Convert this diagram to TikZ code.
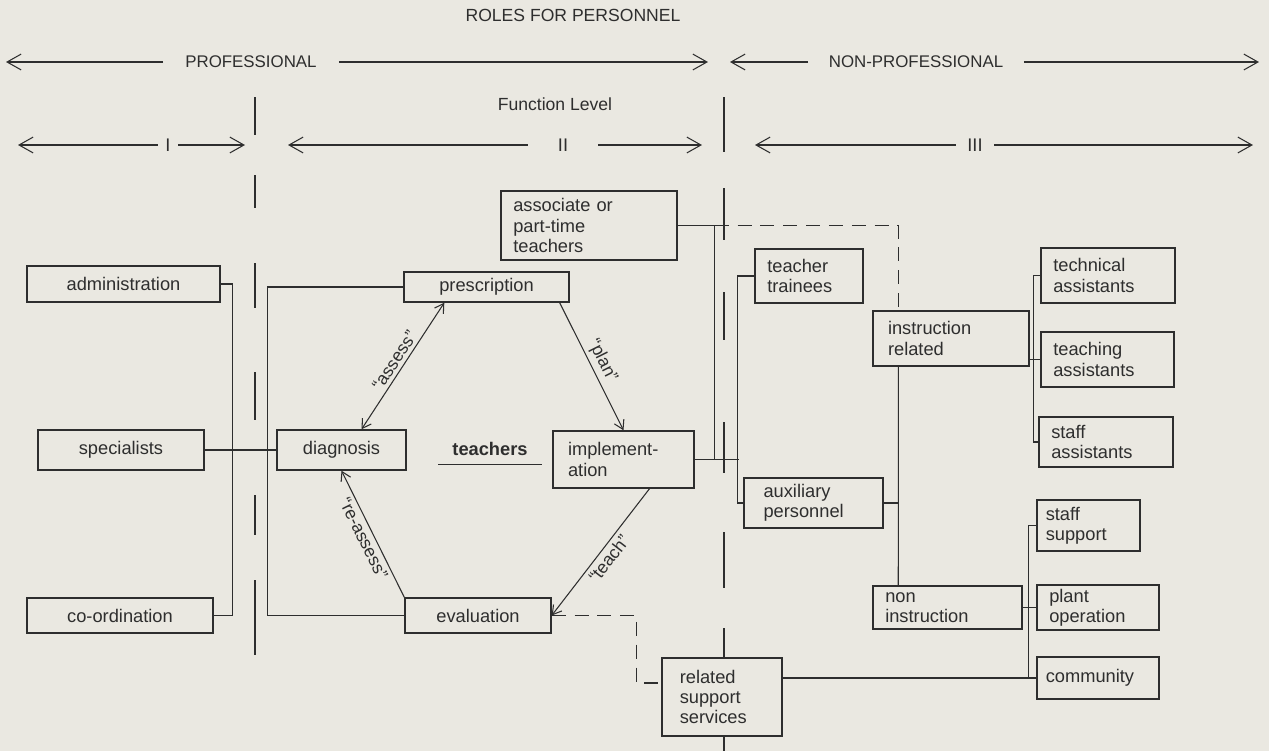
\documentclass[tikz,border=0pt]{standalone}
\usepackage{fontspec}
\setmainfont{Liberation Sans}
\usetikzlibrary{arrows.meta,calc}
\definecolor{paper}{HTML}{EAE8E1}
\definecolor{ink}{HTML}{2E2E2E}

\begin{document}
\begin{tikzpicture}[
  x=0.02cm, y=-0.02cm,
  font=\fontsize{10.4}{11.5}\selectfont,
  every node/.style={text=ink},
  hdr/.style={font=\fontsize{9.6}{11}\selectfont, inner ysep=1pt},
  box/.style={draw=ink, line width=0.8pt, inner sep=0pt},
  cbox/.style={box, align=center},
  lbox/.style={box, align=left, inner xsep=7pt},
  lab/.style={font=\fontsize{10}{12}\selectfont, inner sep=2pt},
  conn/.style={draw=ink, line width=0.6pt},
  arr/.style={conn, -{Straight Barb[length=5pt,width=6pt]}},
  arrb/.style={conn, {Straight Barb[length=5pt,width=6pt]}-{Straight Barb[length=5pt,width=6pt]}},
  harr/.style={conn, -{Straight Barb[length=8pt,width=9pt]}},
  dline/.style={conn, dash pattern=on 8pt off 5pt},
  divider/.style={draw=ink, line width=0.7pt}
]
\fill[paper] (0,0) rectangle (1269,751);

% headings
\node[font=\fontsize{10}{12}\selectfont] (title) at (573,15) {ROLES FOR PERSONNEL};
\node[hdr, inner xsep=12.5pt] (prof) at (251,62) {PROFESSIONAL};
\node[hdr, inner xsep=11.6pt] (nonprof) at (916,62) {NON-PROFESSIONAL};
\node[font=\fontsize{10}{12}\selectfont] (flevel) at (555,104) {Function Level};
\node[inner ysep=1pt, inner xsep=4.2pt] (lvI) at (168,145) {I};
\node[inner ysep=1pt, inner xsep=17pt] (lvII) at (563,145) {II};
\node[inner ysep=1pt, inner xsep=6.3pt] (lvIII) at (975,145) {III};

\coordinate (profL) at (6,62);
\coordinate (profR) at (708,62);
\coordinate (nonL) at (730,62);
\coordinate (nonR) at (1259,62);
\coordinate (lvIL) at (18,145);
\coordinate (lvIR) at (245,145);
\coordinate (lvIIL) at (288,145);
\coordinate (lvIIR) at (702,145);
\coordinate (lvIIIL) at (755,145);
\coordinate (lvIIIR) at (1253,145);

\draw[harr] (prof) -- (profL);
\draw[harr] (prof) -- (profR);
\draw[harr] (nonprof) -- (nonL);
\draw[harr] (nonprof) -- (nonR);
\draw[harr] (lvI) -- (lvIL);
\draw[harr] (lvI) -- (lvIR);
\draw[harr] (lvII) -- (lvIIL);
\draw[harr] (lvII) -- (lvIIR);
\draw[harr] (lvIII) -- (lvIIIL);
\draw[harr] (lvIII) -- (lvIIIR);

% level I
\node[cbox, minimum width=3.86cm, minimum height=0.72cm] (admin) at (123.5,284) {administration};
\node[cbox, minimum width=3.32cm, minimum height=0.80cm] (spec) at (121,450) {specialists};
\node[cbox, minimum width=3.72cm, minimum height=0.70cm] (coord) at (120,615.5) {co-ordination};

% level II
\node[cbox, minimum width=3.30cm, minimum height=0.60cm] (presc) at (486.5,287) {prescription};
\node[cbox, minimum width=2.58cm, minimum height=0.80cm] (diag) at (341.5,450) {diagnosis};
\node[cbox, minimum width=2.92cm, minimum height=0.70cm] (eval) at (478,615.5) {evaluation};
\node[lbox, inner xsep=8.5pt, text width=2.22cm, minimum height=1.14cm] (impl) at (623.5,459.5) {implement-\\ation};
\node[lbox, text width=3.03cm, minimum height=1.38cm] (assoc) at (589,225.5) {associate or\\part-time\\teachers};
\node[inner xsep=8pt, inner ysep=5pt, font=\fontsize{10.4}{11.5}\selectfont\bfseries] (teachers) at (490,449) {teachers};
\draw[conn] (teachers.south west) -- (teachers.south east);

% level III
\node[lbox, text width=1.67cm, minimum height=1.08cm] (train) at (809,276) {teacher\\trainees};
\node[lbox, inner xsep=11pt, text width=2.00cm, minimum height=1.00cm] (aux) at (813.5,503) {auxiliary\\personnel};
\node[lbox, inner xsep=10pt, text width=1.69cm, minimum height=1.56cm] (rel) at (722,697) {related\\support\\services};
\node[lbox, inner xsep=8.5pt, text width=2.52cm, minimum height=1.10cm] (instr) at (951,338.5) {instruction\\related};
\node[lbox, text width=2.49cm, minimum height=0.86cm] (nonin) at (947.5,607.5) {non\\instruction};
\node[lbox, text width=2.19cm, minimum height=1.10cm] (tech) at (1108,275.5) {technical\\assistants};
\node[lbox, text width=2.17cm, minimum height=1.10cm] (teachas) at (1107.5,359.5) {teaching\\assistants};
\node[lbox, text width=2.19cm, minimum height=1.00cm] (staffa) at (1106,442) {staff\\assistants};
\node[lbox, inner xsep=5pt, text width=1.71cm, minimum height=1.02cm] (ssup) at (1088.5,525.5) {staff\\support};
\node[lbox, text width=1.95cm, minimum height=0.90cm] (plant) at (1098,607.5) {plant\\operation};
\node[lbox, inner xsep=5pt, text width=2.09cm, minimum height=0.84cm] (comm) at (1098,678) {community};

% level dividers
\coordinate (divtop) at (724,97);
\draw[divider] (255,97) -- (255,135) (255,175) -- (255,208) (255,263) -- (255,308)
  (255,372) -- (255,420) (255,495) -- (255,535) (255,580) -- (255,655);
\draw[divider] (divtop) -- (724,152) (724,188) -- (724,240) (724,292) -- (724,340)
  (724,422) -- (724,473) (724,532) -- (724,588) (724,628) -- (divtop |- rel.north)
  (divtop |- rel.south) -- (724,751);

% teaching cycle
\draw[arrb] ($(diag.north)+(20,0)$) -- node[lab, midway, sloped, above] {“assess”} ($(presc.south west)+(41,0)$);
\draw[arr] ($(presc.south east)+(-10,0)$) -- node[lab, midway, sloped, above] {“plan”} (impl.north);
\draw[arr] ($(impl.south)+(26,0)$) -- node[lab, midway, sloped, below] {“teach”} (eval.east);
\draw[arr] (eval.north west) -- node[lab, midway, sloped, below] {“re-assess”} (diag.south);

% brackets
\draw[conn] (admin.east) -- ++(12,0) |- (coord.east);
\draw[conn] (spec) -- (diag);
\draw[conn] (presc.west) -- ++(-136,0) |- (eval.west);
\draw[conn] (assoc.east) -- ++(37,0) coordinate (acorner) |- (impl.east);
\draw[conn] (impl.east) -- ++(44,0);
\draw[conn] (train.west) -- ++(-17,0) |- (aux.west);
\draw[dline] (acorner) -| ($(instr.north west)+(26,0)$);
\draw[conn] ($(instr.south west)+(26,0)$) coordinate (itail) -- ($(nonin.north west)+(26,0)$);
\draw[conn] (aux.east) -- (aux.east -| itail);
\draw[conn] (tech.west) -- ++(-7,0) |- (staffa.west);
\draw[conn] (instr.east |- teachas.west) -- (teachas.west);
\draw[conn] (ssup.west) -- ++(-8,0) |- (comm.west);
\draw[conn] (nonin.east) -- (plant.west);
\draw[conn] (rel.east |- comm.west) -- (comm.west);
\draw[dline] (eval.east) -- ++(85,0) |- ($(rel.west)+(0,-14)$);
\end{tikzpicture}
\end{document}
